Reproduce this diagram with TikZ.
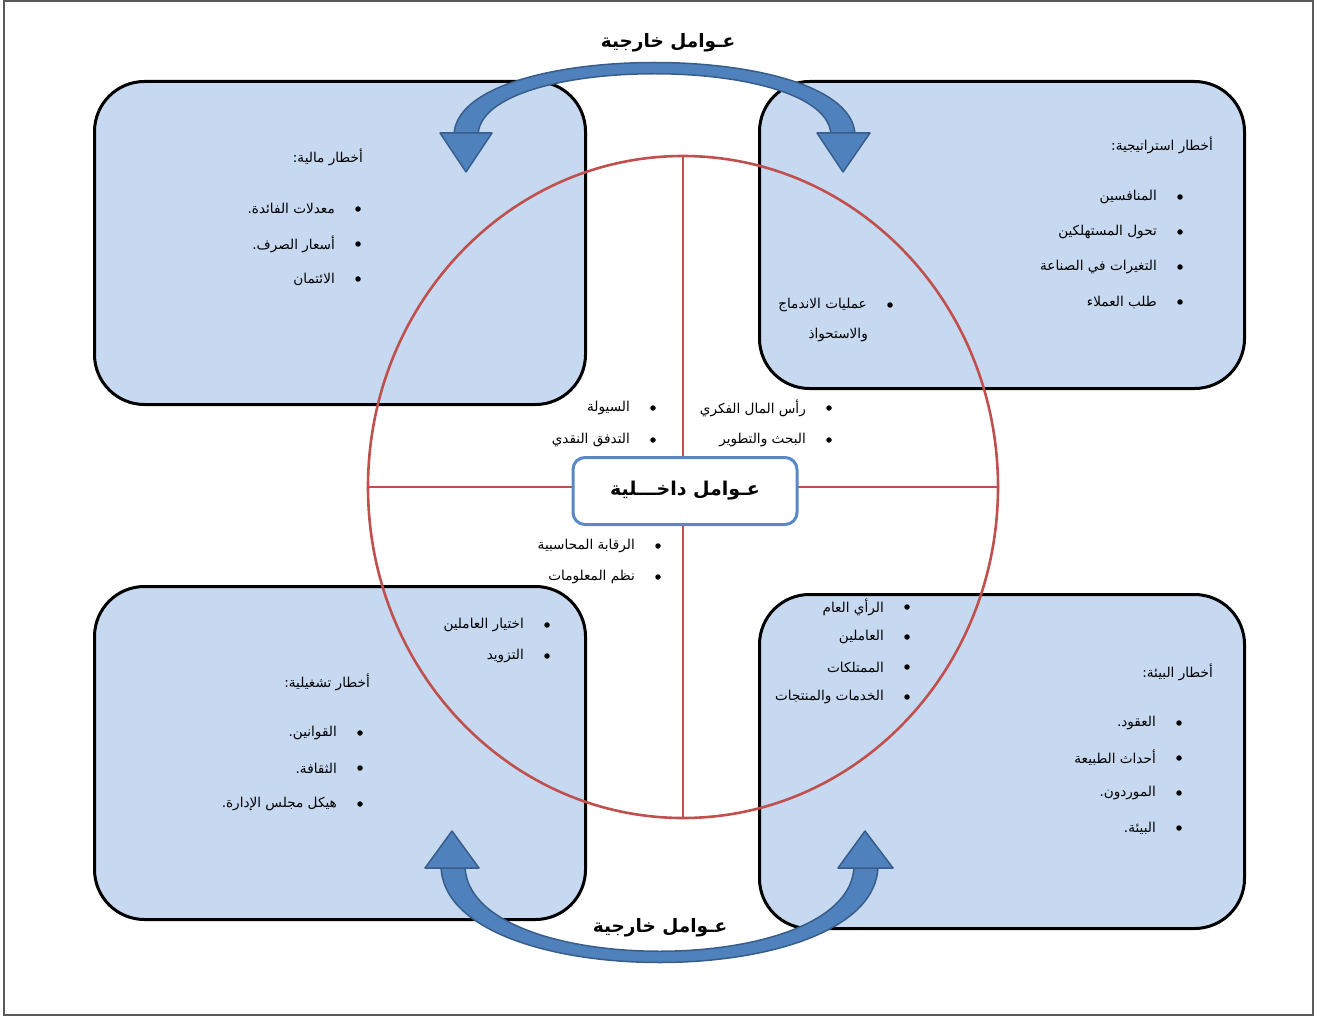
\documentclass[tikz,border=0pt]{standalone}
\usepackage{fontspec}
\usetikzlibrary{shapes.geometric}
\TeXXeTstate=1
\newfontfamily\arfont[Script=Arabic]{DejaVu Sans}
\definecolor{boxfill}{RGB}{198,217,241}
\definecolor{ringred}{RGB}{192,80,77}
\definecolor{arrowfill}{RGB}{79,129,189}
\definecolor{arrowline}{RGB}{56,93,138}
\definecolor{corebord}{RGB}{88,137,198}
\definecolor{framegray}{RGB}{90,90,90}

% one bullet line: name, bullet x, y, text
\newcommand{\riskitem}[4]{%
  \node[bulletmark] (#1b) at (#2,#3) {};
  \node[itemtext] (#1) at ({#2-23},#3) {#4};}
% heading of a risk box: name, right edge x, y, text
\newcommand{\riskhead}[4]{%
  \node[itemtext] (#1) at (#2,#3) {#4};}

\begin{document}
\begin{tikzpicture}[x=1pt,y=-1pt,
  riskbox/.style={draw=black,line width=3pt,fill=boxfill,rounded corners=50pt,
    anchor=north west,inner sep=0pt},
  ring/.style={draw=ringred,line width=2.6pt,ellipse,inner sep=0pt},
  axis/.style={draw=ringred,line width=2.6pt},
  corebox/.style={draw=corebord,line width=3pt,fill=white,rounded corners=12pt,
    minimum width=224pt,minimum height=67pt,inner sep=0pt,
    font=\arfont\bfseries\fontsize{19pt}{22pt}\selectfont},
  itemtext/.style={anchor=east,inner sep=0pt,font=\arfont\fontsize{13.6pt}{16pt}\selectfont},
  bulletmark/.style={circle,fill=black,inner sep=0pt,minimum size=5.5pt},
  outlabel/.style={inner sep=0pt,font=\arfont\bfseries\fontsize{18.5pt}{22pt}\selectfont},
  band/.style={fill=arrowfill,draw=arrowline,line width=1.5pt,line join=round},
]
\useasboundingbox (0,0) rectangle (1320,1016);
\draw[framegray,line width=1.3pt] (4,1) rectangle (1313,1015);

% the four risk boxes
\node[riskbox,minimum width=491pt,minimum height=323pt] (fin) at (93,80) {};
\node[riskbox,minimum width=485pt,minimum height=307pt] (strat) at (758,80) {};
\node[riskbox,minimum width=491pt,minimum height=333pt] (oper) at (93,585) {};
\node[riskbox,minimum width=485pt,minimum height=334pt] (env) at (758,593) {};

% internal factors ring and its axes
\node[ring,minimum width=630pt,minimum height=662pt] (circ) at (683,487) {};
\draw[axis] (circ.north) -- (circ.south);
\draw[axis] (circ.west) -- (circ.east);
\node[corebox] (core) at (685,491) {\beginR عـوامل داخـــلية\endR};

% external factors: upper curved double arrow
\draw[band] (454,136) .. controls (454,38) and (855,38) .. (855,136)
  -- (831,136) .. controls (831,53) and (478,53) .. (478,136) -- cycle;
\draw[band] (440,133) -- (492,133) -- (466,172) -- cycle;
\draw[band] (817,133) -- (870,133) -- (843,172) -- cycle;
% external factors: lower curved double arrow
\draw[band] (441,865) .. controls (441,995) and (878,995) .. (878,865)
  -- (854,865) .. controls (854,980) and (465,980) .. (465,865) -- cycle;
\draw[band] (425,868) -- (479,868) -- (452,831) -- cycle;
\draw[band] (838,868) -- (893,868) -- (865,831) -- cycle;
\node[outlabel] (exttop) at (668,43) {\beginR عـوامل خارجية\endR};
\node[outlabel] (extbot) at (660,928) {\beginR عـوامل خارجية\endR};

% financial risks
\riskhead{finh}{363}{157}{\beginR أخطار مالية:\endR}
\riskitem{fa}{358}{209}{\beginR معدلات الفائدة.\endR}
\riskitem{fb}{358}{244}{\beginR أسعار الصرف.\endR}
\riskitem{fc}{358}{279}{\beginR الائتمان\endR}

% strategic risks
\riskhead{strh}{1213}{145}{\beginR أخطار استراتيجية:\endR}
\riskitem{sa}{1180}{197}{\beginR المنافسين\endR}
\riskitem{sb}{1180}{232}{\beginR تحول المستهلكين\endR}
\riskitem{sc}{1180}{267}{\beginR التغيرات في الصناعة\endR}
\riskitem{sd}{1180}{302}{\beginR طلب العملاء\endR}
\riskitem{se}{890}{305}{\beginR عمليات الاندماج\endR}
\riskhead{se2}{868}{335}{\beginR والاستحواذ\endR}

% internal factors
\riskitem{ia}{653}{408}{\beginR السيولة\endR}
\riskitem{ib}{653}{440}{\beginR التدفق النقدي\endR}
\riskitem{ic}{829}{408}{\beginR رأس المال الفكري\endR}
\riskitem{id}{829}{440}{\beginR البحث والتطوير\endR}
\riskitem{ie}{658}{546}{\beginR الرقابة المحاسبية\endR}
\riskitem{if}{658}{577}{\beginR نظم المعلومات\endR}

% operational risks
\riskitem{oa}{547}{625}{\beginR اختيار العاملين\endR}
\riskitem{ob}{547}{656}{\beginR التزويد\endR}
\riskhead{oph}{370}{682}{\beginR أخطار تشغيلية:\endR}
\riskitem{oc}{360}{733}{\beginR القوانين.\endR}
\riskitem{od}{360}{768}{\beginR الثقافة.\endR}
\riskitem{oe}{360}{804}{\beginR هيكل مجلس الإدارة.\endR}

% environmental risks
\riskitem{ea}{907}{607}{\beginR الرأي العام\endR}
\riskitem{eb}{907}{637}{\beginR العاملين\endR}
\riskitem{ec}{907}{667}{\beginR الممتلكات\endR}
\riskitem{ed}{907}{697}{\beginR الخدمات والمنتجات\endR}
\riskhead{envh}{1213}{672}{\beginR أخطار البيئة:\endR}
\riskitem{ee}{1179}{723}{\beginR العقود.\endR}
\riskitem{ef}{1179}{758}{\beginR أحداث الطبيعة\endR}
\riskitem{eg}{1179}{793}{\beginR الموردون.\endR}
\riskitem{eh}{1179}{828}{\beginR البيئة.\endR}
\end{tikzpicture}
\end{document}
